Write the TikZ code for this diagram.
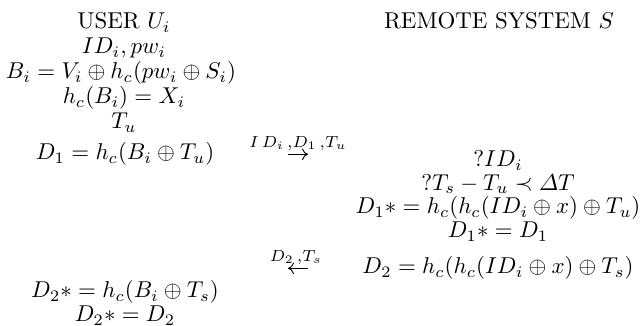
\documentclass[tikz,border=0pt]{standalone}
\usepackage{amsmath}
\usetikzlibrary{arrows.meta}
\begin{document}
\begin{tikzpicture}[x=0.4367pt,y=-0.4367pt,
  line/.style={anchor=base,inner sep=0pt},
  msglabel/.style={anchor=base,inner sep=0pt},
  msgarrow/.style={-{Computer Modern Rightarrow[length=2.6pt,width=5pt]},line width=0.4pt}]
\useasboundingbox (0,0) rectangle (643,326);
% left column (user)
\node[line] (user) at (124,29) {USER $U_i$};
\node[line] (l2) at (124,54) {$ID_i, pw_i$};
\node[line] (l3) at (121,79) {$B_i = V_i \oplus h_c(pw_i \oplus S_i)$};
\node[line] (l4) at (124,104) {$h_c(B_i) = X_i$};
\node[line] (l5) at (124,129) {$T_u$};
\node[line] (l6) at (125,160) {$D_1 = h_c(B_i \oplus T_u)$};
\node[line] (l12) at (125,298) {$D_2* = h_c(B_i \oplus T_s)$};
\node[line] (l13) at (125,322) {$D_2* = D_2$};
% right column (remote system)
\node[line] (server) at (499,29) {REMOTE SYSTEM $S$};
\node[line] (r7) at (498,167) {$?ID_i$};
\node[line] (r8) at (498,190.5) {$?T_s - T_u \prec \varDelta T$};
\node[line] (r9) at (498,214) {$D_1* = h_c(h_c(ID_i \oplus x) \oplus T_u)$};
\node[line] (r10) at (498,238) {$D_1* = D_1$};
\node[line] (r11) at (498,274) {$D_2 = h_c(h_c(ID_i \oplus x) \oplus T_s)$};
% messages
\coordinate (m1s) at (288,154.3);
\coordinate (m1e) at (308,154.3);
\node[msglabel] (m1) at (298,147.5) {$\scriptstyle I\,D_i\,,D_1\,,T_u$};
\draw[msgarrow] (m1s) -- (m1e);
\coordinate (m2s) at (308,268.3);
\coordinate (m2e) at (288,268.3);
\node[msglabel] (m2) at (296,261.5) {$\scriptstyle D_2\,,T_s$};
\draw[msgarrow] (m2s) -- (m2e);
\end{tikzpicture}
\end{document}
